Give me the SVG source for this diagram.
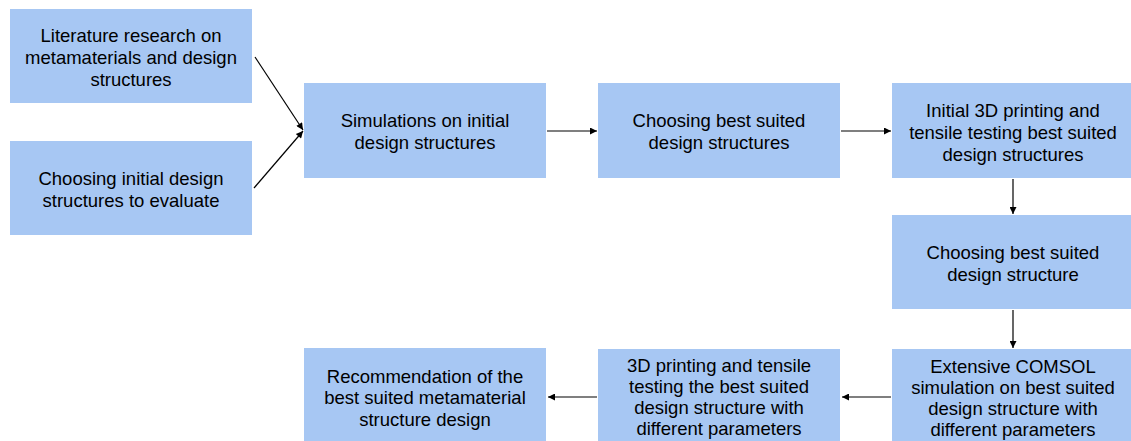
<svg xmlns="http://www.w3.org/2000/svg" width="1131" height="441" viewBox="0 0 1131 441">
<defs>
<style>
.box{fill:#a7c7f3;}
.t{font-family:"Liberation Sans",Arial,sans-serif;font-size:18.5px;fill:#000;text-anchor:middle;}
.c{stroke:#000;stroke-width:1.2;fill:none;marker-end:url(#ah);}
</style>
<marker id="ah" viewBox="0 0 10 10" refX="10" refY="5" markerWidth="9" markerHeight="7" markerUnits="userSpaceOnUse" orient="auto">
<path d="M0,0 L10,5 L0,10 z" fill="#000"/>
</marker>
</defs>
<rect width="1131" height="441" fill="#fff"/>
<g id="n1"><rect class="box" x="10" y="9" width="242" height="94"/>
<text class="t" x="131" y="41.5">Literature research on</text>
<text class="t" x="131" y="63.5">metamaterials and design</text>
<text class="t" x="131" y="85.5">structures</text></g>
<g id="n2"><rect class="box" x="10" y="141" width="242" height="94"/>
<text class="t" x="131" y="184.5">Choosing initial design</text>
<text class="t" x="131" y="206.5">structures to evaluate</text></g>
<g id="n3"><rect class="box" x="304" y="83" width="242" height="95"/>
<text class="t" x="425" y="126.5">Simulations on initial</text>
<text class="t" x="425" y="148.5">design structures</text></g>
<g id="n4"><rect class="box" x="598" y="83" width="242" height="95"/>
<text class="t" x="719" y="126.5">Choosing best suited</text>
<text class="t" x="719" y="148.5">design structures</text></g>
<g id="n5"><rect class="box" x="892" y="83" width="242" height="95"/>
<text class="t" x="1013" y="116.5">Initial 3D printing and</text>
<text class="t" x="1013" y="138.5">tensile testing best suited</text>
<text class="t" x="1013" y="160.5">design structures</text></g>
<g id="n6"><rect class="box" x="892" y="215" width="242" height="94"/>
<text class="t" x="1013" y="258.5">Choosing best suited</text>
<text class="t" x="1013" y="280.5">design structure</text></g>
<g id="n7"><rect class="box" x="892" y="349" width="242" height="94"/>
<text class="t" x="1013" y="373">Extensive COMSOL</text>
<text class="t" x="1013" y="394">simulation on best suited</text>
<text class="t" x="1013" y="415">design structure with</text>
<text class="t" x="1013" y="436">different parameters</text></g>
<g id="n8"><rect class="box" x="598" y="349" width="242" height="94"/>
<text class="t" x="719" y="372">3D printing and tensile</text>
<text class="t" x="719" y="393">testing the best suited</text>
<text class="t" x="719" y="414">design structure with</text>
<text class="t" x="719" y="435">different parameters</text></g>
<g id="n9"><rect class="box" x="304" y="348" width="242" height="95"/>
<text class="t" x="425" y="382.5">Recommendation of the</text>
<text class="t" x="425" y="404">best suited metamaterial</text>
<text class="t" x="425" y="425.5">structure design</text></g>
<g id="connectors">
<path class="c" d="M255,57 L303,130"/>
<path class="c" d="M254,188 L303,131"/>
<path class="c" d="M547,131 L597,131"/>
<path class="c" d="M841,131 L891,131"/>
<path class="c" d="M1013,179 L1013,214"/>
<path class="c" d="M1013,310 L1013,348"/>
<path class="c" d="M891,397 L842,397"/>
<path class="c" d="M597,397 L548,397"/>
</g>
</svg>
